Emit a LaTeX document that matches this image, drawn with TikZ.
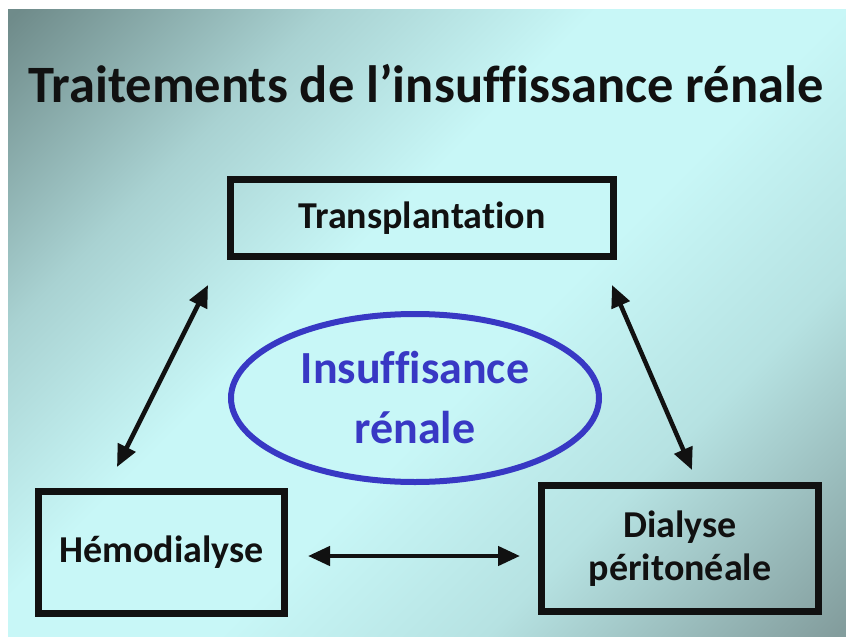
\documentclass[tikz,border=0pt]{standalone}
\usepackage{fontspec}
\setmainfont{Carlito}[Ligatures=NoCommon]
\usetikzlibrary{arrows.meta,shapes.geometric}

\definecolor{bgTL}{HTML}{6F8B8A}
\definecolor{bgHigh}{HTML}{A9D2D2}
\definecolor{bgMid}{HTML}{C8F7F7}
\definecolor{bgLow}{HTML}{B6E2E2}
\definecolor{bgBR}{HTML}{839D9D}
\definecolor{diseaseblue}{HTML}{3838C4}
\definecolor{inkblack}{HTML}{111111}

\pgfdeclareverticalshading{slidebg}{100bp}{color(0bp)=(bgBR); color(15bp)=(bgBR);
  color(32bp)=(bgLow); color(45bp)=(bgMid); color(57bp)=(bgMid);
  color(70bp)=(bgHigh); color(85bp)=(bgTL); color(100bp)=(bgTL)}

\begin{document}
\begin{tikzpicture}[x=1pt,y=-1pt,
    treatment/.style ={rectangle, draw=inkblack, line width=7pt, text=inkblack,
      font=\fontsize{38}{43}\selectfont\bfseries, align=center, inner sep=0pt},
    disease/.style ={ellipse, draw=diseaseblue, line width=6pt, text=diseaseblue,
      font=\fontsize{46}{60}\selectfont\bfseries, align=center, inner sep=0pt},
    link/.style ={draw=inkblack, line width=4.5pt,
      {Triangle[length=22pt,width=19pt]}-{Triangle[length=22pt,width=19pt]}}]
   \useasboundingbox (0,0) rectangle (846,637);
   \fill[white] (0,0) rectangle (846,637);
   \shade[shading=slidebg, shading angle=45] (8,9) rectangle (846,637);

   \node[anchor=base west, text=inkblack, font=\fontsize{52.5}{60}\selectfont\bfseries]
     (title) at (25,102) {Traitements de l’insuffissance rénale};

   \node[treatment, minimum width=383pt, minimum height=77pt] (transplant) at (422,218) {Transplantation};
   \node[treatment, minimum width=246pt, minimum height=122pt] (hemo) at (161.5,552.5) {Hémodialyse};
   \node[treatment, minimum width=277pt, minimum height=126pt] (dp) at (680,548.5) {Dialyse\\péritonéale};
   \node[disease, minimum width=368pt, minimum height=168pt] (ir) at (415,398) {Insuffisance\\rénale};

   \coordinate (hemo-up) at (117,467);
   \coordinate (transplant-left) at (208,285);
   \coordinate (transplant-right) at (612,285);
   \coordinate (dp-up) at (692,470);
   \coordinate (hemo-right) at (308,556);
   \coordinate (dp-left) at (520,556);

   \draw[link] (hemo-up) to (transplant-left);
   \draw[link] (transplant-right) to (dp-up);
   \draw[link] (hemo-right) to (dp-left);
 \end{tikzpicture}
\end{document}
